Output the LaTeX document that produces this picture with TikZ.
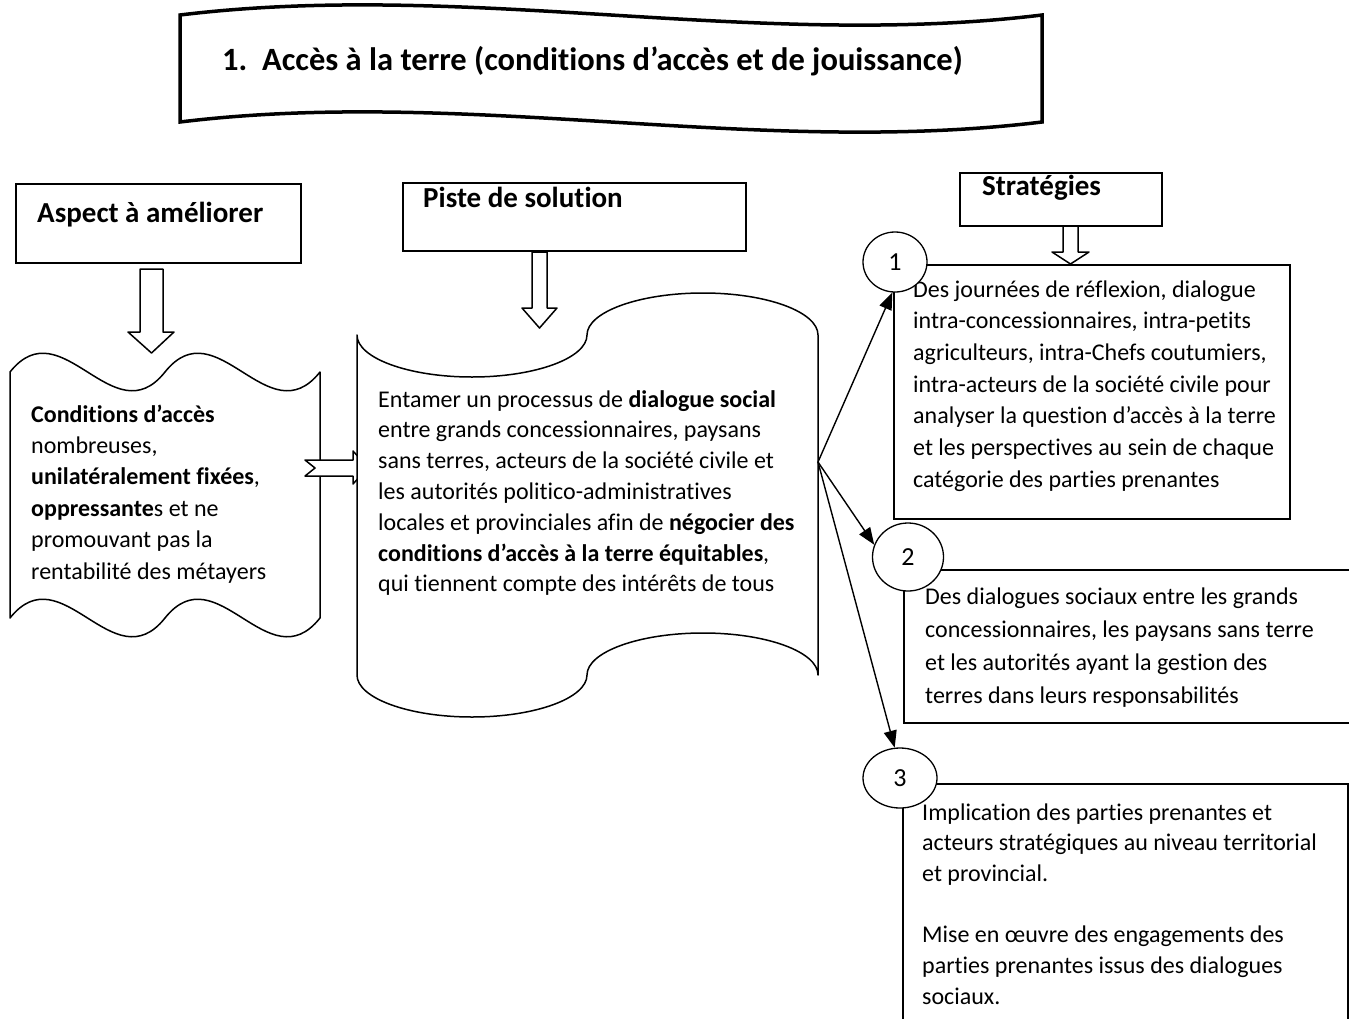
\documentclass[tikz,border=0pt]{standalone}
\usepackage{fontspec}
\setmainfont{Carlito}[Ligatures=NoCommon]
\usetikzlibrary{arrows.meta,shapes.geometric}

% multi-line text block whose baseline is the first line
\newcommand\textlines[1]{\begin{tabular}[t]{@{}l@{}}#1\end{tabular}}

\begin{document}
\begin{tikzpicture}[x=1pt,y=-1pt,
  box/.style={draw, line width=1.5pt, inner sep=0pt, anchor=north west},
  shapeline/.style={draw, line width=1.5pt, fill=white, line join=round},
  banner/.style={draw, line width=3.5pt, line join=miter},
  head/.style={anchor=base west, inner sep=0pt, font=\bfseries\fontsize{29}{35}\selectfont},
  body/.style={anchor=base west, inner sep=0pt, font=\fontsize{24}{#1}\selectfont},
  num/.style={draw, ellipse, line width=1.3pt, fill=white, inner sep=0pt, font=\fontsize{26}{30}\selectfont},
  link/.style={line width=1.4pt, -{Triangle[length=17pt,width=13pt]}}
]
\useasboundingbox (0,0) rectangle (1349,1018);
\clip (0,0) rectangle (1349,1018);

% ---- title banner (wave)
\draw[banner] (180,15) .. controls (467,-20) and (755,50) .. (1042,15)
  -- (1042,122) .. controls (755,157) and (467,87) .. (180,122) -- cycle;
\node[anchor=base west, inner sep=0pt, font=\bfseries\fontsize{32.5}{38}\selectfont] (title) at (222,70)
  {\makebox[40pt][l]{1.}Accès à la terre (conditions d’accès et de jouissance)};

% ---- column headings
\node[box, minimum width=285pt, minimum height=79pt] (aspect) at (15,183) {};
\node[head] (aspectT) at (37,222) {Aspect à améliorer};
\node[box, minimum width=343pt, minimum height=68pt] (piste) at (402,182) {};
\node[head] (pisteT) at (423,207) {Piste de solution};
\node[box, minimum width=202pt, minimum height=53pt] (strat) at (959,172) {};
\node[head] (stratT) at (982,195) {Stratégies};

% ---- block arrows under the headings
\draw[shapeline] (140,269) -- (163,269) -- (163,332) -- (174,332) -- (151.5,353)
  -- (128,332) -- (140,332) -- cycle;
\draw[shapeline] (532,252) -- (547,252) -- (547,308) -- (557,308) -- (539.5,328)
  -- (522,308) -- (532,308) -- cycle;

% ---- left document shape (double wave)
\draw[shapeline] (10,372) .. controls (61.7,307) and (113.3,437) .. (165,372)
  .. controls (216.7,307) and (268.3,437) .. (320,372)
  -- (320,618) .. controls (268.3,683) and (216.7,553) .. (165,618)
  .. controls (113.3,683) and (61.7,553) .. (10,618) -- cycle;
\node[body=31.4] (leftT) at (31,422) {\textlines{\textbf{Conditions d’accès}\\
  nombreuses,\\
  \textbf{unilatéralement fixées},\\
  \textbf{oppressante}s et ne\\
  promouvant pas la\\
  rentabilité des métayers}};

% ---- notched arrow between the two documents
\draw[shapeline] (305,460) -- (353,460) -- (353,451) -- (368,467.5) -- (353,484)
  -- (353,476) -- (305,476) -- (315,468) -- cycle;

% ---- middle document shape (punched tape)
\draw[shapeline] (357,335) .. controls (357,358) and (408.5,377) .. (472,377)
  .. controls (535.5,377) and (587,358) .. (587,335)
  .. controls (587,312) and (639,293) .. (703,293)
  .. controls (767,293) and (818,312) .. (818,335)
  -- (818,675) .. controls (818,652) and (767,633) .. (703,633)
  .. controls (639,633) and (587,652) .. (587,675)
  .. controls (587,698) and (535.5,717) .. (472,717)
  .. controls (408.5,717) and (357,698) .. (357,675) -- cycle;
\node[body=30.8] (midT) at (378,407) {\textlines{Entamer un processus de \textbf{dialogue social}\\
  entre grands concessionnaires, paysans\\
  sans terres, acteurs de la société civile et\\
  les autorités politico-administratives\\
  locales et provinciales afin de \textbf{négocier des}\\
  \textbf{conditions d’accès à la terre équitables},\\
  qui tiennent compte des intérêts de tous}};
\coordinate (fork) at (818,462);

% ---- strategy boxes
\node[box, minimum width=396pt, minimum height=254pt] (s1) at (893,264) {};
\node[body=31.7] (s1T) at (913,297) {\textlines{Des journées de réflexion, dialogue\\
  intra-concessionnaires, intra-petits\\
  agriculteurs, intra-Chefs coutumiers,\\
  intra-acteurs de la société civile pour\\
  analyser la question d’accès à la terre\\
  et les perspectives au sein de chaque\\
  catégorie des parties prenantes}};
\draw[shapeline] (1063,226) -- (1078,226) -- (1078,252) -- (1089,252) -- (1070.5,264)
  -- (1052,252) -- (1063,252) -- cycle;

\node[box, minimum width=460pt, minimum height=153pt] (s2) at (903,569) {};
\node[body=33.3] (s2T) at (925,604) {\textlines{Des dialogues sociaux entre les grands\\
  concessionnaires, les paysans sans terre\\
  et les autorités ayant la gestion des\\
  terres dans leurs responsabilités}};

\node[box, minimum width=445pt, minimum height=260pt] (s3) at (902,783) {};
\node[body=30.7] (s3T) at (922,820) {\textlines{Implication des parties prenantes et\\
  acteurs stratégiques au niveau territorial\\
  et provincial.\\
  \\
  Mise en œuvre des engagements des\\
  parties prenantes issus des dialogues\\
  sociaux.}};

% ---- numbered markers
\node[num, minimum width=64pt, minimum height=60pt] (c1) at (895,262) {1};
\node[num, minimum width=71pt, minimum height=68pt] (c2) at (908,557) {2};
\node[num, minimum width=74pt, minimum height=60pt] (c3) at (900,778) {3};

% ---- connectors from the middle document to the strategies
\draw[link] (fork) -- (c1.265);
\draw[link] (fork) -- (c2.160);
\draw[link] (fork) -- (c3.100);
\end{tikzpicture}
\end{document}
